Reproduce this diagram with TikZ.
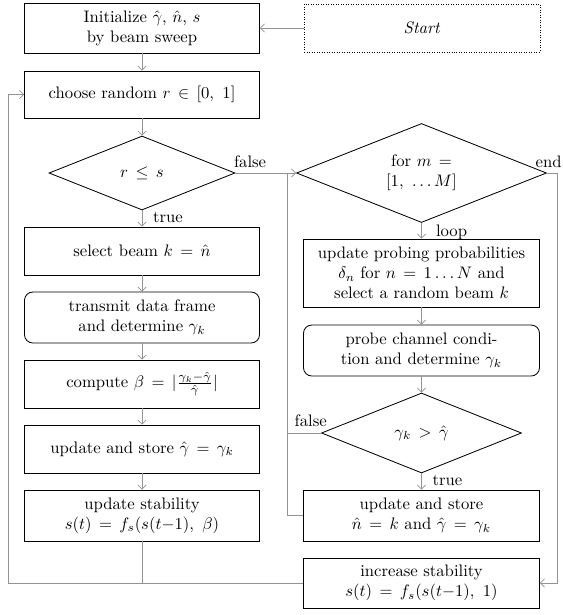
\documentclass[tikz,border=0pt]{standalone}
\usetikzlibrary{shapes.geometric,arrows.meta}
\thickmuskip=8mu plus 3mu
\begin{document}
\begin{tikzpicture}[x=0.6pt,y=-0.6pt,
 box/.style={draw, line width=0.5pt, align=center, inner sep=2pt},
 lbox/.style={box, minimum width=141pt},
 rbox/.style={box, minimum width=141.6pt},
 dec/.style={draw, diamond, shape aspect=2.5, inner sep=0pt, align=center, line width=0.5pt},
 conn/.style={draw=gray!85, line width=0.4pt},
 arr/.style={conn, -{Straight Barb[length=2.5pt,width=5pt]}},
 lab/.style={inner sep=1pt}]
\useasboundingbox (0,0) rectangle (563,615);
% left column
\node[lbox, minimum height=30pt] (init) at (142,28) {Initialize $\hat\gamma$, $\hat n$, $s$\\by beam sweep};
\node[rbox, line width=0.5pt, dash pattern=on 0.5pt off 1pt, minimum height=28.8pt] (start) at (422,28) {\textit{Start}};
\node[lbox, minimum height=28.2pt] (choose) at (142,94.5) {choose random $r \in [0,\ 1]$};
\node[dec, minimum width=111.6pt, minimum height=44.4pt] (d1) at (142,173) {$r \leq s$};
\node[lbox, minimum height=28.8pt] (sel) at (142,251) {select beam $k = \hat n$};
\node[lbox, rounded corners=5pt, minimum height=30.6pt] (tx) at (142,317.5) {transmit data frame\\and determine $\gamma_k$};
\node[lbox, minimum height=28.8pt] (comp) at (142,384) {compute $\beta = |\frac{\gamma_k-\hat\gamma}{\hat\gamma}|$};
\node[lbox, minimum height=28.8pt] (updg) at (142,449) {update and store $\hat\gamma = \gamma_k$};
\node[lbox, minimum height=30.6pt] (stab) at (142,515.5) {update stability\\$s(t) = f_s(s(t{-}1),\ \beta)$};
% right column
\node[dec, minimum width=150pt, minimum height=59.4pt] (d2) at (421.5,173) {for $m =$\\$[1,\ \ldots M]$};
\node[rbox, minimum height=40.8pt] (prob) at (421.5,273) {update probing probabilities\\$\delta_n$ for $n = 1 \ldots N$ and\\select a random beam $k$};
\node[rbox, rounded corners=5pt, minimum height=30.6pt] (probe) at (421.5,350.5) {probe channel condi-\\tion and determine $\gamma_k$};
\node[dec, minimum width=120pt, minimum height=48pt] (d3) at (421.5,433) {$\gamma_k > \hat\gamma$};
\node[rbox, minimum height=30.6pt] (upds) at (421.5,515.5) {update and store\\$\hat n = k$ and $\hat\gamma = \gamma_k$};
\node[rbox, minimum height=30pt] (inc) at (421.5,583) {increase stability\\$s(t) = f_s(s(t{-}1),\ 1)$};
% coordinates
\coordinate (bl) at (8,583);
\coordinate (mx) at (287,173);
\coordinate (ex) at (557,173);
% connectors
\draw[arr] (start.west) -- (init.east);
\draw[arr] (init) -- (choose);
\draw[arr] (choose) -- (d1);
\draw[arr] (d1) -- (sel);
\draw[arr] (sel) -- (tx);
\draw[arr] (tx) -- (comp);
\draw[arr] (comp) -- (updg);
\draw[arr] (updg) -- (stab);
\draw[conn] (stab.south) -- (stab.south |- inc.west);
\draw[arr] (inc.west) -- (bl) -- (bl |- choose.west) -- (choose.west);
\draw[arr] (d1.east) -- (d2.west);
\draw[arr] (d2) -- (prob);
\draw[arr] (prob) -- (probe);
\draw[arr] (probe) -- (d3);
\draw[arr] (d3) -- (upds);
\draw[conn] (d3.west) -- (d3.west -| mx);
\draw[conn] (upds.west) -- (upds.west -| mx) -- (mx);
\draw[arr] (d2.east) -- (ex) -- (ex |- inc.east) -- (inc.east);
% labels
\node[lab, anchor=south west] at ([xshift=-2pt,yshift=2pt]d1.east) {false};
\node[lab, anchor=north west] at ([xshift=5.5pt]d1.south) {true};
\node[lab, anchor=north west] at ([xshift=7.5pt]d2.south) {loop};
\node[lab, anchor=north west] at ([xshift=5.5pt]d3.south) {true};
\node[lab, anchor=south east] at ([xshift=4.6pt,yshift=2.6pt]d3.west) {false};
\node[lab, anchor=south] at ([xshift=1pt,yshift=2pt]d2.east) {end};
\end{tikzpicture}
\end{document}
